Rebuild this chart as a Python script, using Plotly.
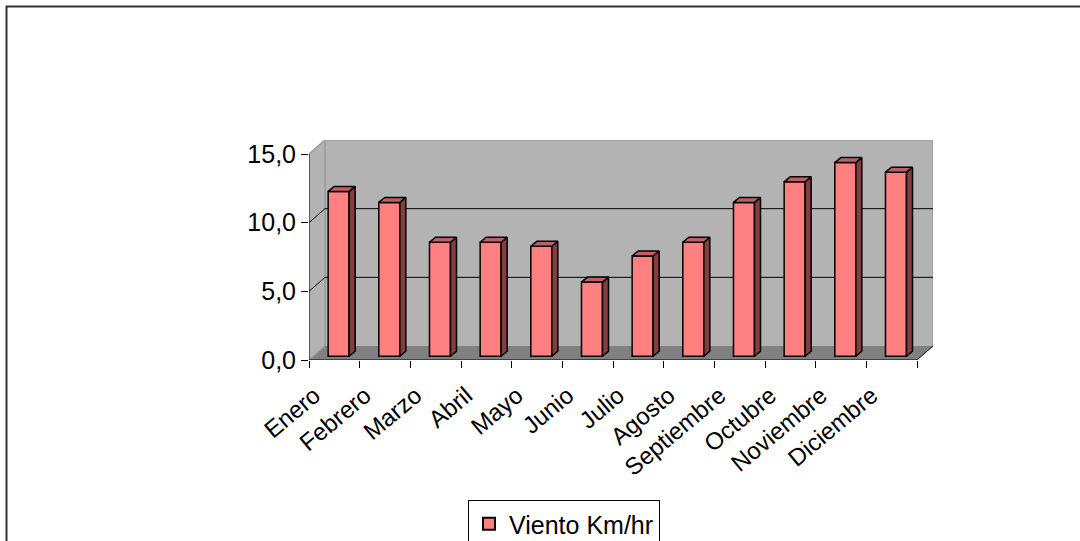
import plotly.graph_objects as go

# ---- data ----
months = ["Enero", "Febrero", "Marzo", "Abril", "Mayo", "Junio", "Julio",
          "Agosto", "Septiembre", "Octubre", "Noviembre", "Diciembre"]
viento = [12.0, 11.2, 8.3, 8.3, 8.0, 5.4, 7.3, 8.3, 11.2, 12.7, 14.1, 13.4]
series_name = "Viento Km/hr"
y_ticks = [0, 5, 10, 15]

# ---- geometry (pixels) ----
W, H = 1080, 541
FRONT_L, FRONT_R = 309, 917
TOP_BACK, BOTTOM_FRONT = 140, 360
DX_PX, DY_PX = 16, 14          # wall depth offset
BAR_W_PX = 21
BAR_F0 = 0.27                  # bar front depth fraction
BAR_DX_PX, BAR_DY_PX = 6, 5    # bar depth
LABEL_DX_PX = -20              # category label shift

n = len(months)
ymax = y_ticks[-1]
catw = (FRONT_R - FRONT_L) / n
ypx = (BOTTOM_FRONT - (TOP_BACK + DY_PX)) / ymax
DXu, DYu = DX_PX / catw, DY_PX / ypx
x_lo, x_hi = -0.5, n - 0.5
xr = [x_lo, x_hi + DXu]
yr = [0, ymax + DYu]

bar_w = BAR_W_PX / catw
bx_off, by_off = BAR_F0 * DXu, BAR_F0 * DYu
bdx, bdy = BAR_DX_PX / catw, BAR_DY_PX / ypx

fig = go.Figure()

# front faces
xs = [i + bx_off for i in range(n)]
fig.add_trace(go.Bar(x=xs, y=viento, base=[by_off] * n, width=bar_w,
                     name=series_name, showlegend=True,
                     marker=dict(color="#FF8080", line=dict(color="black", width=1.5)),
                     hoverinfo="skip"))

# sides and tops
sx, sy, tx, ty = [], [], [], []
for xc, v in zip(xs, viento):
    xl, xrr = xc - bar_w / 2, xc + bar_w / 2
    b, t = by_off, by_off + v
    sx += [xrr, xrr, xrr + bdx, xrr + bdx, xrr, None]
    sy += [b, t, t + bdy, b + bdy, b, None]
    tx += [xl, xrr, xrr + bdx, xl + bdx, xl, None]
    ty += [t, t, t + bdy, t + bdy, t, None]
fig.add_trace(go.Scatter(x=sx, y=sy, mode="lines", fill="toself", fillcolor="#804040",
                         line=dict(color="black", width=1.5), showlegend=False, hoverinfo="skip"))
fig.add_trace(go.Scatter(x=tx, y=ty, mode="lines", fill="toself", fillcolor="#C06060",
                         line=dict(color="black", width=1.5), showlegend=False, hoverinfo="skip"))

shapes = []
wall = "#B3B3B3"
floor = "#808080"
edge = "#999999"
# left wall
shapes.append(dict(type="path", layer="below", fillcolor=wall, line=dict(width=0),
                   path=f"M {x_lo},0 L {x_lo},{ymax} L {x_lo+DXu},{ymax+DYu} L {x_lo+DXu},{DYu} Z"))
# back wall
shapes.append(dict(type="rect", layer="below", fillcolor=wall, line=dict(width=0),
                   x0=x_lo + DXu, y0=DYu, x1=x_hi + DXu, y1=ymax + DYu))
# floor
shapes.append(dict(type="path", layer="below", fillcolor=floor, line=dict(width=0),
                   path=f"M {x_lo},0 L {x_hi},0 L {x_hi+DXu},{DYu} L {x_lo+DXu},{DYu} Z"))
# wall edges
for (a, b_, c, d) in [(x_lo + DXu, DYu, x_lo + DXu, ymax + DYu),
                      (x_lo + DXu, ymax + DYu, x_hi + DXu, ymax + DYu),
                      (x_hi + DXu, DYu, x_hi + DXu, ymax + DYu),
                      (x_lo, ymax, x_lo + DXu, ymax + DYu),
                      (x_lo, 0, x_lo + DXu, DYu)]:
    shapes.append(dict(type="line", layer="below", x0=a, y0=b_, x1=c, y1=d,
                       line=dict(color=edge, width=1.5)))
# gridlines
for v in y_ticks[1:-1]:
    shapes.append(dict(type="line", layer="below", x0=x_lo + DXu, y0=v + DYu, x1=x_hi + DXu, y1=v + DYu,
                       line=dict(color="black", width=1)))
    shapes.append(dict(type="line", layer="below", x0=x_lo, y0=v, x1=x_lo + DXu, y1=v + DYu,
                       line=dict(color="black", width=1)))
# front axes
shapes.append(dict(type="line", layer="below", x0=x_lo, y0=0, x1=x_lo, y1=ymax, line=dict(color="black", width=1)))
shapes.append(dict(type="line", layer="below", x0=x_lo, y0=0, x1=x_hi, y1=0, line=dict(color="black", width=1)))
shapes.append(dict(type="line", layer="below", x0=x_hi, y0=0, x1=x_hi + DXu, y1=DYu, line=dict(color="black", width=1)))

# chart border (left and top)
pw = (FRONT_R + DX_PX) - FRONT_L
ph = BOTTOM_FRONT - TOP_BACK
def px2paper_x(p): return (p - FRONT_L) / pw
def px2paper_y(p): return (BOTTOM_FRONT - p) / ph
shapes.append(dict(type="rect", xref="paper", yref="paper",
                   x0=px2paper_x(6.5), x1=px2paper_x(W + 20),
                   y0=px2paper_y(H + 20), y1=px2paper_y(6.5),
                   line=dict(color="#333333", width=2), fillcolor="rgba(0,0,0,0)"))

fig.update_layout(
    width=W, height=H,
    margin=dict(l=FRONT_L, r=W - (FRONT_R + DX_PX), t=TOP_BACK, b=H - BOTTOM_FRONT, pad=0,
                autoexpand=False),
    paper_bgcolor="white", plot_bgcolor="white",
    separators=",.",
    font=dict(family="Liberation Sans, Arial, sans-serif", size=25, color="black"),
    shapes=shapes,
    barmode="overlay",
    xaxis=dict(range=xr, tickmode="array", tickvals=[i + LABEL_DX_PX / catw for i in range(n)],
               ticktext=months, tickfont=dict(size=24),
               tickangle=-40, ticks="", showgrid=False, showline=False, zeroline=False,
               ticklabelstandoff=16, automargin=False,
               minor=dict(tickmode="array", tickvals=[i - 0.5 for i in range(n + 1)],
                          ticks="outside", ticklen=7, tickcolor="black", tickwidth=1, showgrid=False),
               fixedrange=True),
    yaxis=dict(range=yr, tickmode="array", tickvals=y_ticks, tickformat=".1f",
               ticks="outside", ticklen=7, tickcolor="black", tickwidth=1, automargin=False,
               showgrid=False, showline=False, zeroline=False, fixedrange=True),
    legend=dict(x=px2paper_x(468), y=px2paper_y(500),
                xanchor="left", yanchor="top", bordercolor="black", borderwidth=1,
                bgcolor="white", font=dict(size=25), itemsizing="constant", itemwidth=30),
)

fig.write_html("out.html", config={"displayModeBar": False},
               post_script="document.body.style.margin='0';document.body.style.overflow='hidden';")
